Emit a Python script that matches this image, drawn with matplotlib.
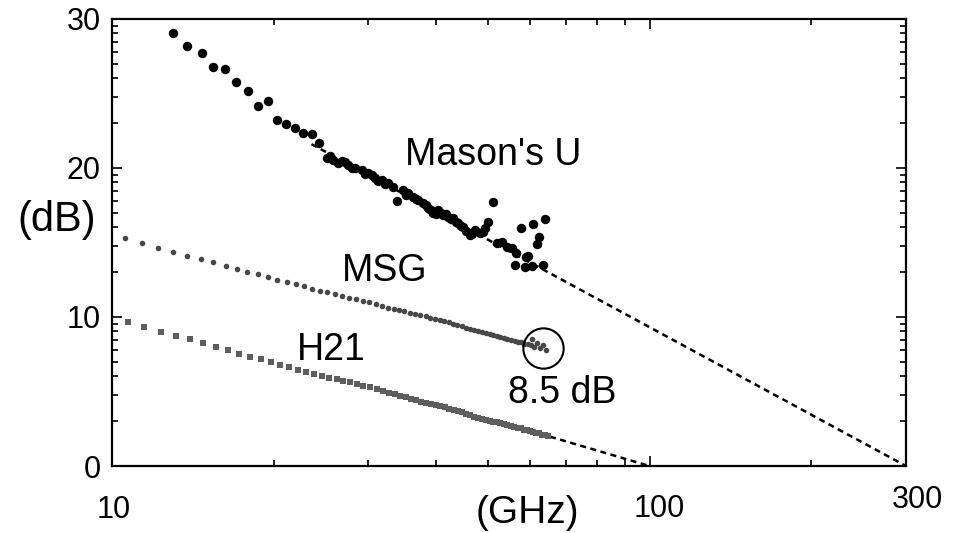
import numpy as np
import matplotlib
matplotlib.use("Agg")
import matplotlib.pyplot as plt
from matplotlib.ticker import FixedLocator, NullFormatter
from matplotlib.transforms import ScaledTranslation

plt.rcParams['font.family'] = ['Liberation Sans', 'DejaVu Sans']

# Mason's unilateral gain U (GHz, dB)
masons_f = [12.97, 13.81, 14.69, 15.43, 16.23, 17.01, 17.88, 18.72, 19.53, 20.25,
            21.07, 21.90, 22.69, 23.52, 24.30, 25.08, 25.40, 25.80, 26.30, 26.75,
            27.10, 27.52, 28.00, 28.32, 29.14, 29.50, 29.98, 30.40, 30.85, 31.30,
            31.75, 32.20, 32.66, 33.37, 33.95, 34.83, 35.20, 35.58, 36.35, 36.80,
            37.14, 37.95, 38.40, 38.77, 39.20, 39.61, 40.00, 40.47, 40.90, 41.34,
            41.80, 42.24, 42.70, 43.15, 43.60, 44.09, 44.60, 45.04, 45.60, 46.34,
            46.80, 47.35, 48.38, 48.90, 49.43, 50.13, 51.15, 51.97, 53.09, 54.24,
            55.41, 56.44, 56.25, 57.60, 58.67, 58.80, 59.51, 60.37, 60.79, 61.77,
            62.37, 63.45, 63.99]
masons_u = [29.04, 28.19, 27.74, 26.76, 26.64, 25.79, 25.17, 24.16, 24.50, 23.22,
            22.93, 22.66, 22.37, 22.28, 21.66, 20.65, 20.80, 20.54, 20.35, 20.49,
            20.40, 20.20, 20.00, 19.98, 19.87, 19.60, 19.64, 19.50, 19.31, 19.10,
            19.19, 18.90, 19.01, 18.74, 17.81, 18.52, 18.20, 18.30, 18.07, 17.90,
            17.85, 17.63, 17.50, 17.30, 17.20, 16.96, 16.90, 17.18, 16.95, 16.85,
            16.90, 16.73, 16.55, 16.62, 16.40, 16.29, 16.10, 16.02, 15.80, 15.50,
            15.60, 15.84, 15.62, 15.70, 15.95, 16.40, 17.74, 14.95, 15.05, 14.72,
            14.61, 14.28, 13.49, 15.99, 13.38, 14.05, 14.09, 13.42, 16.24, 14.90,
            15.35, 13.49, 16.56]

# maximum stable gain MSG (GHz, dB)
msg_f = [10.57, 11.39, 12.20, 13.00, 13.81, 14.62, 15.43, 16.27, 17.06, 17.85,
         18.67, 19.48, 20.30, 21.14, 21.97, 22.76, 23.59, 24.38, 25.15, 26.00,
         26.82, 27.64, 28.44, 29.27, 30.11, 30.95, 31.75, 32.58, 33.40, 34.20,
         35.00, 35.80, 36.60, 37.40, 38.30, 39.10, 39.90, 40.70, 41.50, 42.30,
         43.10, 43.90, 44.70, 45.50, 46.30, 47.20, 48.00, 48.80, 49.60, 50.40,
         51.20, 52.00, 52.80, 53.60, 54.40, 55.20, 56.10, 56.90, 57.70, 58.50,
         59.30, 60.10, 60.37, 60.97, 61.67, 62.55, 63.45, 64.19]
msg_db = [15.32, 14.95, 14.66, 14.36, 14.11, 13.89, 13.67, 13.44, 13.22, 13.04,
          12.89, 12.66, 12.48, 12.35, 12.21, 12.06, 11.90, 11.76, 11.66, 11.54,
          11.41, 11.30, 11.19, 11.07, 10.99, 10.87, 10.74, 10.62, 10.55, 10.47,
          10.40, 10.30, 10.22, 10.13, 10.05, 9.96, 9.88, 9.80, 9.72, 9.64,
          9.55, 9.46, 9.38, 9.29, 9.20, 9.12, 9.04, 8.97, 8.90, 8.84,
          8.77, 8.70, 8.66, 8.57, 8.53, 8.45, 8.41, 8.33, 8.29, 8.22,
          8.18, 8.10, 8.50, 7.97, 8.23, 7.90, 8.12, 7.79]

# current gain H21 (GHz, dB)
h21_f = [10.72, 11.48, 12.32, 13.16, 13.97, 14.79, 15.61, 16.46, 17.25, 18.06,
         18.91, 19.74, 20.54, 21.35, 22.16, 22.96, 23.76, 24.56, 25.34, 26.19,
         26.94, 27.72, 28.53, 29.35, 30.20, 31.08, 31.97, 32.80, 33.60, 34.40,
         35.20, 36.00, 36.80, 37.60, 38.40, 39.20, 40.00, 40.80, 41.60, 42.40,
         43.20, 44.00, 44.80, 45.60, 46.40, 47.20, 48.00, 48.80, 49.60, 50.40,
         51.20, 52.00, 52.80, 53.60, 54.40, 55.20, 56.00, 56.80, 57.60, 58.40,
         59.20, 60.00, 60.80, 61.60, 62.40, 63.20, 64.00, 64.80]
h21_db = [9.64, 9.35, 9.01, 8.72, 8.50, 8.23, 7.99, 7.77, 7.54, 7.34,
          7.16, 6.96, 6.78, 6.62, 6.44, 6.29, 6.17, 6.06, 5.93, 5.82,
          5.70, 5.62, 5.50, 5.39, 5.28, 5.15, 5.03, 4.92, 4.82, 4.70,
          4.61, 4.50, 4.43, 4.32, 4.26, 4.17, 4.10, 4.01, 3.94, 3.84,
          3.78, 3.67, 3.60, 3.49, 3.43, 3.32, 3.25, 3.14, 3.08, 2.99,
          2.98, 2.92, 2.88, 2.80, 2.77, 2.68, 2.65, 2.56, 2.53, 2.44,
          2.41, 2.32, 2.30, 2.20, 2.19, 2.09, 2.08, 2.00]

# extrapolations down to 0 dB
u_fit_f = [23.5, 300]
u_fit_db = [21.6, 0]
h21_fit_f = [65.3, 100]
h21_fit_db = [1.97, 0]

# circled MSG point
circ_f, circ_db = 63.4, 7.95

fig = plt.figure(figsize=(9.55, 5.33), dpi=100)
ax = fig.add_axes([0.1173, 0.1257, 0.8314, 0.8387])

ax.plot(u_fit_f, u_fit_db, color='black', lw=1.8, ls=(0, (2.4, 1.8)), zorder=2)
ax.plot(h21_fit_f, h21_fit_db, color='black', lw=1.8, ls=(0, (2.4, 1.8)), zorder=2)
ax.plot(masons_f, masons_u, 'o', color='black', ms=6.8, mew=0, zorder=3)
ax.plot(msg_f, msg_db, 'o', color='#484848', ms=4.0, mew=0, zorder=3)
ax.plot(h21_f, h21_db, 's', color='#5e5e5e', ms=3.8, mew=0, zorder=3)
ax.plot([circ_f], [circ_db], 'o', mfc='none', mec='black', ms=29, mew=1.5, zorder=4)

ax.text(35.1, 20.2, "Mason's U", fontsize=27, va='baseline', ha='left')
ax.text(26.8, 12.42, "MSG", fontsize=27, va='baseline', ha='left')
ax.text(22.1, 7.11, "H21", fontsize=27, va='baseline', ha='left')
ax.text(54.5, 4.23, "8.5 dB", fontsize=27, va='baseline', ha='left')

ax.set_xscale('log')
ax.set_xlim(10, 300)
ax.set_ylim(0, 30)

ax.set_xticks([10, 100, 300])
ax.set_xticklabels(['10', '100', '300'])
ax.xaxis.set_minor_locator(FixedLocator([20, 30, 40, 50, 60, 70, 80, 90, 200]))
ax.xaxis.set_minor_formatter(NullFormatter())
ax.set_yticks([0, 10, 20, 30])
ax.yaxis.set_minor_locator(FixedLocator(
    [d + 10 * np.log10(k) for d in (0, 10, 20) for k in range(2, 10)]))

ax.tick_params(which='both', direction='in', top=True, right=True,
               labelsize=22, width=1.2)
ax.tick_params(which='major', length=7)
ax.tick_params(which='minor', length=4)
ax.tick_params(axis='x', pad=14)
ax.tick_params(axis='y', pad=8)
for sp in ax.spines.values():
    sp.set_linewidth(1.6)

# staggered x tick labels as in the original
offsets = [(2, -10), (10, -9), (11, 0)]
for lab, (dx, dy) in zip(ax.get_xticklabels(), offsets):
    lab.set_transform(lab.get_transform() +
                      ScaledTranslation(dx / 100, dy / 100, fig.dpi_scale_trans))

ax.set_xlabel('(GHz)', fontsize=28)
ax.xaxis.set_label_coords(0.5227, -0.106)
ax.xaxis.label.set_va('center')
ax.set_ylabel('(dB)', fontsize=30, rotation=0, va='center', ha='center')
ax.yaxis.set_label_coords(-0.0693, 0.55)

fig.savefig('out.png', dpi=100)
